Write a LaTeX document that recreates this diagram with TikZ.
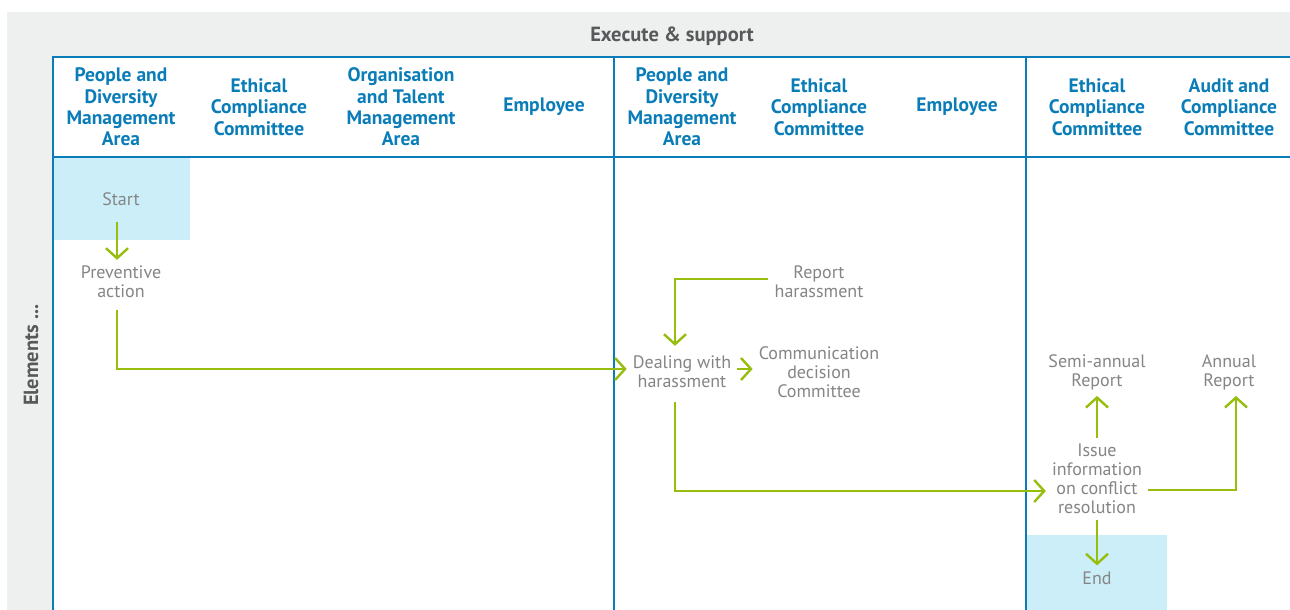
\documentclass[tikz,border=0pt]{standalone}
\usepackage{fontspec}
\setmainfont{PT Sans}
\usepackage{tikz}
\usetikzlibrary{arrows.meta}
\definecolor{laneblue}{HTML}{0A7DB8}
\definecolor{flowgreen}{HTML}{97BD0D}
\definecolor{bandgray}{HTML}{EEF0EF}
\definecolor{startblue}{HTML}{CBEEF8}
\definecolor{activitygray}{HTML}{858585}
\definecolor{titlegray}{HTML}{58595B}

\begin{document}
\begin{tikzpicture}[x=1pt,y=-1pt,
      lanerule/.style={draw=laneblue,line width=2.8pt},
      flowarrow/.style={draw=flowgreen,line width=2.4pt,-{Straight Barb[length=10pt,width=22pt]}},
      lanehead/.style={text=laneblue,font=\bfseries\fontsize{19.5}{21.3}\selectfont,align=center},
      activity/.style={text=activitygray,font=\fontsize{18}{19}\selectfont,align=center,inner sep=6pt},
      bandtitle/.style={text=titlegray,font=\bfseries\fontsize{20.5}{22}\selectfont}]
    \useasboundingbox (0,0) rectangle (1290,610);
    \fill[bandgray] (7,12) rectangle (1290,610);
    \fill[white] (53,57) rectangle (1290,610);
    \fill[startblue] (53,157) rectangle (190,240);
    \fill[startblue] (1026,535) rectangle (1167,610);

    \node (execute) [bandtitle] at (672,36) {Execute \& support};
    \node (elements) [bandtitle,rotate=90] at (31,355) {Elements ...};

    \draw[lanerule] (1290,57) -- (53,57) -- (53,610);
    \draw[lanerule] (53,157) -- (1290,157);
    \draw[lanerule] (614,57) -- (614,610);
    \draw[lanerule] (1026,57) -- (1026,610);

    \node (peopleA) [lanehead] at (121,107) {People and\\Diversity\\Management\\Area};
    \node (ethicsA) [lanehead] at (259,107) {Ethical\\Compliance\\Committee};
    \node (talent) [lanehead] at (401,107) {Organisation\\and Talent\\Management\\Area};
    \node (employeeA) [lanehead] at (544,107) {Employee};
    \node (peopleB) [lanehead] at (682,107) {People and\\Diversity\\Management\\Area};
    \node (ethicsB) [lanehead] at (819,107) {Ethical\\Compliance\\Committee};
    \node (employeeB) [lanehead] at (957,107) {Employee};
    \node (ethicsC) [lanehead] at (1097,107) {Ethical\\Compliance\\Committee};
    \node (audit) [lanehead] at (1229,107) {Audit and\\Compliance\\Committee};

    \node (start) [activity] at (121,199) {Start};
    \node (prevention) [activity] at (121,282) {Preventive\\action};
    \node (report) [activity] at (819,282) {Report\\harassment};
    \node (dealing) [activity] at (682,372) {Dealing with\\harassment};
    \node (communication) [activity] at (819,372) {Communication\\decision\\Committee};
    \node (semiannual) [activity] at (1097,372) {Semi-annual\\Report};
    \node (annual) [activity] at (1229,372) {Annual\\Report};
    \node (issue) [activity] at (1097,479) {Issue\\information\\on conflict\\resolution};
    \node (finish) [activity] at (1097,578) {End};

    \draw[flowarrow,shorten <=10pt] ([xshift=-4pt]start.south) -- ([xshift=-4pt]prevention.north);
    \draw[flowarrow,shorten <=6pt] ([xshift=-4pt]prevention.south) |- ([yshift=3pt]dealing.west);
    \draw[flowarrow,shorten >=4pt] ([yshift=3pt]report.west) -| ([xshift=-7pt]dealing.north);
    \draw[flowarrow] ([yshift=3pt]dealing.east) -- ([yshift=3pt]dealing.east -| communication.west);
    \draw[flowarrow,shorten <=8pt] ([xshift=-7pt]dealing.south) |- ([yshift=-12pt]issue.west);
    \draw[flowarrow] (issue.north) -- (semiannual.south);
    \draw[flowarrow] ([yshift=-11pt]issue.east) -| ([xshift=7pt]annual.south);
    \draw[flowarrow] (issue.south) -- (finish.north);
\end{tikzpicture}
\end{document}
